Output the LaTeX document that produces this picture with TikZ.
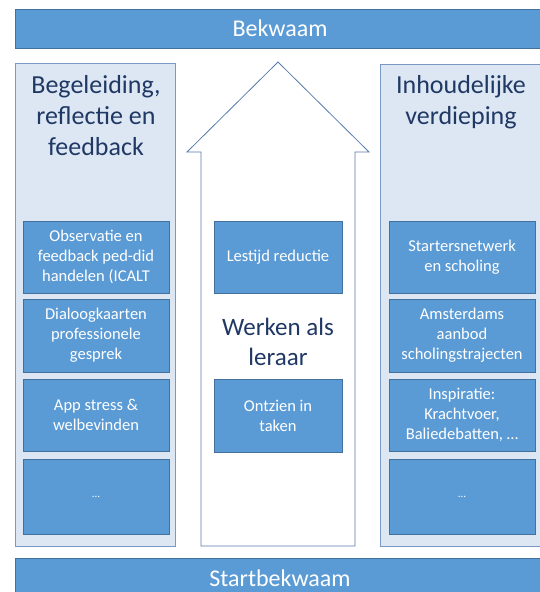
\documentclass[tikz,border=0pt]{standalone}
\usepackage{fontspec}
\setmainfont{Carlito}
\definecolor{tileblue}{RGB}{91,155,213}
\definecolor{tileedge}{RGB}{65,113,156}
\definecolor{panelfill}{RGB}{221,231,243}
\definecolor{paneledge}{RGB}{122,152,196}
\definecolor{arrowedge}{RGB}{88,124,172}
\definecolor{titlenavy}{RGB}{31,56,100}
\usetikzlibrary{positioning}

\begin{document}
\begin{tikzpicture}[
    x=1pt,y=-1pt,
    bar/.style={draw=tileedge,fill=tileblue,line width=0.8pt,minimum width=530pt,minimum height=39pt,inner sep=0pt,text=white,font=\fontsize{24}{28}\selectfont},
    panel/.style={draw=paneledge,fill=panelfill,line width=0.8pt,inner sep=0pt},
    tile/.style={draw=tileedge,fill=tileblue,line width=0.8pt,minimum width=146pt,minimum height=72pt,inner sep=0pt,align=center,text=white,font=\fontsize{16.5}{20}\selectfont},
    heading/.style={align=center,text=titlenavy,font=\fontsize{26}{31}\selectfont}
  ]
  \useasboundingbox (0,0) rectangle (539,592);
  \node[bar] (top) at (280,28.5) {Bekwaam};
  \node[bar] (bottom) at (280,578) {Startbekwaam};

  \node[panel,minimum width=160pt,minimum height=483pt] (left) at (95,304.5) {};
  \node[panel,minimum width=165pt,minimum height=482pt] (right) at (462.5,305) {};
  \draw[draw=arrowedge,fill=white,line width=0.8pt] (278,62) -- (369,152) -- (355,152) -- (355,546)
    -- (201,546) -- (201,152) -- (187,152) -- cycle;

  \node[heading] (lefthead) at (96,116) {Begeleiding,\\reflectie en\\feedback};
  \node[heading] (righthead) at (461,102.5) {Inhoudelijke\\verdieping};
  \node[heading,font=\fontsize{25}{30}\selectfont] (work) at (278,342) {Werken als\\leraar};

  \node[tile] (obs) at (96,257) {Observatie en\\feedback ped-did\\handelen (ICALT};
  \node[tile,minimum height=73pt] (dialog) at (96,335.5) {Dialoogkaarten\\professionele\\gesprek};
  \node[tile] (app) at (96,415) {App stress \&\\welbevinden};
  \node[tile,minimum height=75pt] (ldots) at (96,496.5) {\fontsize{11}{13}\selectfont...};

  \node[tile,minimum width=128pt] (lestijd) at (278,257) {Lestijd reductie};
  \node[tile,minimum width=128pt,minimum height=73pt] (ontzien) at (278,415.5) {Ontzien in\\taken};

  \node[tile] (starters) at (462,257) {Startersnetwerk\\en scholing};
  \node[tile,minimum height=73pt] (amsterdam) at (462,335.5) {Amsterdams\\aanbod\\scholingstrajecten};
  \node[tile] (inspiratie) at (462,415) {Inspiratie:\\Krachtvoer,\\Baliedebatten, \dots};
  \node[tile,minimum height=75pt] (rdots) at (462,496.5) {\fontsize{11}{13}\selectfont...};
\end{tikzpicture}
\end{document}
